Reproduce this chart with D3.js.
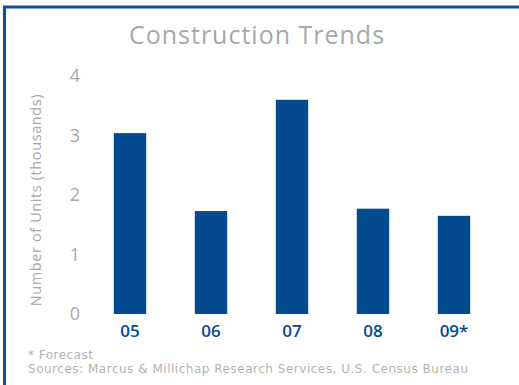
<!DOCTYPE html>
<html><head><meta charset="utf-8">
<script src="https://cdn.jsdelivr.net/npm/d3@7"></script>
<style>html,body{margin:0;padding:0;background:#fff;}svg{display:block;}</style>
</head><body>
<script>
const categories = ["05", "06", "07", "08", "09*"];
const values = [3.04, 1.73, 3.6, 1.77, 1.65];
const yTicks = [0, 1, 2, 3, 4];
const title = "Construction Trends";
const yTitle = "Number of Units (thousands)";
const notes = ["* Forecast", "Sources: Marcus & Millichap Research Services, U.S. Census Bureau"];
const noteWidths = [65, 440];

const W = 519, H = 385;
const svg = d3.select("body").append("svg").attr("width", W).attr("height", H);
const font = "'Open Sans', sans-serif";
const grey = "#a8a8a8";
const blue = "#044a8e";

// border frame (top + left)
svg.append("path").attr("d", `M4.5,${H} V7 H${W}`).attr("fill", "none")
  .attr("stroke", "#0e4f9e").attr("stroke-width", 3);

svg.append("text").attr("x", 257).attr("y", 44).attr("text-anchor", "middle")
  .attr("font-family", font).attr("font-size", 25).attr("letter-spacing", 1).attr("fill", grey).text(title);

const x = d3.scaleBand().domain(categories).range([89.5, 494.5]).paddingInner(0.6).paddingOuter(0.3);
const y = d3.scaleLinear().domain([0, 4]).range([314, 76]);

svg.selectAll("rect.bar").data(values).join("rect").attr("class", "bar")
  .attr("x", (d, i) => x(categories[i])).attr("width", x.bandwidth())
  .attr("y", d => y(d)).attr("height", d => y(0) - y(d)).attr("fill", blue);

const yAxis = svg.append("g").attr("transform", "translate(82,0)")
  .call(d3.axisLeft(y).tickValues(yTicks).tickSize(0).tickPadding(0).tickFormat(d3.format("d")));
yAxis.select(".domain").remove();
yAxis.selectAll("text").attr("font-family", font).attr("font-size", 18).attr("fill", grey)
  .attr("text-anchor", "middle").attr("dx", -7);

const xAxis = svg.append("g").attr("transform", `translate(0,${y(0)})`)
  .call(d3.axisBottom(x).tickSize(0).tickPadding(11));
xAxis.select(".domain").remove();
xAxis.selectAll("text").attr("font-family", font).attr("font-size", 17).attr("font-weight", 600).attr("fill", blue);

svg.append("text").attr("transform", "translate(41,200) rotate(-90)").attr("text-anchor", "middle")
  .attr("font-family", font).attr("font-size", 14.5).attr("letter-spacing", 0.6).attr("fill", grey).text(yTitle);

svg.selectAll("text.note").data(notes).join("text").attr("class", "note")
  .attr("x", 28).attr("y", (d, i) => 358.5 + i * 14.5)
  .attr("textLength", (d, i) => noteWidths[i]).attr("lengthAdjust", "spacing")
  .attr("font-family", "'DejaVu Sans', sans-serif").attr("font-size", 12).attr("fill", "#b3b3b3").text(d => d);
</script>
</body></html>
